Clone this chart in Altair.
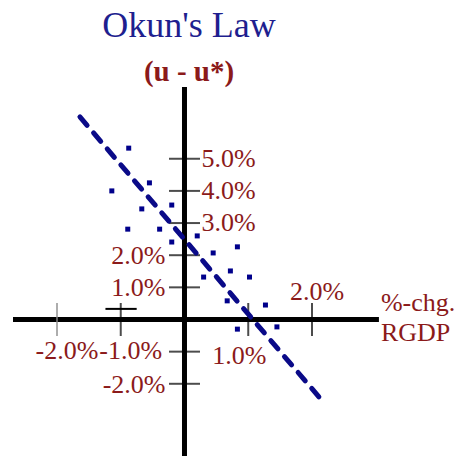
import altair as alt
import pandas as pd

# Observed (real GDP growth, unemployment gap) pairs, in percent
gdp_growth = [-0.875, -0.55, -1.14, -0.20, -0.67, -0.89, -0.39, 0.20, -0.20,
              0.83, 0.45, 0.72, 0.30, 1.02, 0.67, 1.27, 0.83, 1.45]
unemp_gap = [5.33, 4.25, 4.00, 3.56, 3.44, 2.81, 2.81, 2.60, 2.41,
             2.26, 2.07, 1.51, 1.32, 1.32, 0.58, 0.45, -0.30, -0.23]

# Okun's law fitted line end points
trend_x = [-1.64, 2.11]
trend_y = [6.30, -2.41]

# Axis ticks and their labels
x_ticks = [-2, -1, 1, 2]
y_ticks = [5, 4, 3, 2, 1, -1, -2]
x_labels_below = [-2, -1, 1]
x_labels_above = [2]
y_labels_right = [5, 4, 3]
y_labels_left = [2, 1, -2]

X_DOMAIN = [-2.894, 4.259]
Y_DOMAIN = [-4.246, 7.232]
X_AXIS_SPAN = [-2.69, 3.05]

RED = "#8b1a1a"
BLUE = "#0a0a88"
FONT = "Liberation Serif"
LABEL_SIZE = 26

xs = alt.Scale(domain=X_DOMAIN, nice=False, zero=False)
ys = alt.Scale(domain=Y_DOMAIN, nice=False, zero=False)


def X(field="x", **kw):
    return alt.X(field, type="quantitative", scale=xs, axis=None, **kw)


def Y(field="y", **kw):
    return alt.Y(field, type="quantitative", scale=ys, axis=None, **kw)


def pct(v):
    return f"{v:.1f}%"


# Axes drawn through the origin
v_axis = alt.Chart(pd.DataFrame({"x": [0], "y": [Y_DOMAIN[1]], "y2": [Y_DOMAIN[0]]})).mark_rule(
    color="black", strokeWidth=5
).encode(x=X(), y=Y(), y2="y2")

h_axis = alt.Chart(pd.DataFrame({"y": [0], "x": [X_AXIS_SPAN[0]], "x2": [X_AXIS_SPAN[1]]})).mark_rule(
    color="black", strokeWidth=5
).encode(x=X(), x2="x2", y=Y())

tick_df = pd.DataFrame({"x": x_ticks, "y": [0] * len(x_ticks),
                        "c": ["#8a8a8a", "black", "black", "black"]})
x_tick_marks = alt.Chart(tick_df).mark_tick(orient="vertical", size=33, thickness=2).encode(
    x=X(), y=Y(), color=alt.Color("c:N", scale=None)
)

# small cross-bar beside the -1 tick
cross_bar = alt.Chart(pd.DataFrame({"x": [-1.24], "x2": [-0.75], "y": [0.33]})).mark_rule(
    color="black", strokeWidth=2
).encode(x=X(), x2="x2", y=Y())

y_tick_marks = alt.Chart(pd.DataFrame({"x": [0] * len(y_ticks), "y": y_ticks})).mark_tick(
    orient="horizontal", size=31, thickness=2, color="black"
).encode(x=X(), y=Y())


def labels(values, axis, align, dx, dy):
    if axis == "x":
        df = pd.DataFrame({"x": values, "y": [0] * len(values)})
    else:
        df = pd.DataFrame({"x": [0] * len(values), "y": values})
    df["t"] = [pct(v) for v in values]
    return alt.Chart(df).mark_text(
        font=FONT, fontSize=LABEL_SIZE, color=RED, align=align, baseline="middle", dx=dx, dy=dy
    ).encode(x=X(), y=Y(), text="t:N")


xl_below_left = labels(x_labels_below[:2], "x", "center", 10, 32)
xl_below_right = labels(x_labels_below[2:], "x", "center", -9, 37)
xl_above = labels(x_labels_above, "x", "center", 5, -27)
yl_right = labels(y_labels_right, "y", "left", 17, 0)
yl_left = labels(y_labels_left, "y", "right", -19, 1)

x_title_top = alt.Chart(pd.DataFrame({"x": [X_AXIS_SPAN[1]], "y": [0], "t": ["%-chg."]})).mark_text(
    font=FONT, fontSize=LABEL_SIZE, color=RED, align="left", baseline="middle", dx=2, dy=-16
).encode(x=X(), y=Y(), text="t:N")
x_title_bottom = alt.Chart(pd.DataFrame({"x": [X_AXIS_SPAN[1]], "y": [0], "t": ["RGDP"]})).mark_text(
    font=FONT, fontSize=LABEL_SIZE, color=RED, align="left", baseline="middle", dx=2, dy=14
).encode(x=X(), y=Y(), text="t:N")

trend = alt.Chart(pd.DataFrame({"x": trend_x, "y": trend_y})).mark_line(
    color=BLUE, strokeWidth=5, strokeDash=[11, 10], strokeCap="round"
).encode(x=X(), y=Y())

points = alt.Chart(pd.DataFrame({"x": gdp_growth, "y": unemp_gap})).mark_square(
    size=25, color="#00008b", opacity=1
).encode(x=X(), y=Y())

chart = alt.layer(
    v_axis, h_axis, x_tick_marks, cross_bar, y_tick_marks,
    xl_below_left, xl_below_right, xl_above, yl_right, yl_left,
    x_title_top, x_title_bottom, trend, points
).properties(
    width=456,
    height=369,
    background="white",
    padding={"top": 87, "left": 0, "right": 0, "bottom": 0},
    autosize=alt.AutoSizeParams(type="none"),
    title=alt.TitleParams(
        text="Okun's Law",
        subtitle="(u - u*)",
        font=FONT, fontSize=36, fontWeight="normal", color="#1f1f8f",
        subtitleFont=FONT, subtitleFontSize=29, subtitleFontWeight="bold",
        subtitleColor=RED, subtitlePadding=13,
        anchor="middle", dx=-39, offset=-3,
    ),
).configure_view(strokeWidth=0, strokeOpacity=0)

chart.save("out.html", embed_options={"renderer": "svg", "actions": False})
